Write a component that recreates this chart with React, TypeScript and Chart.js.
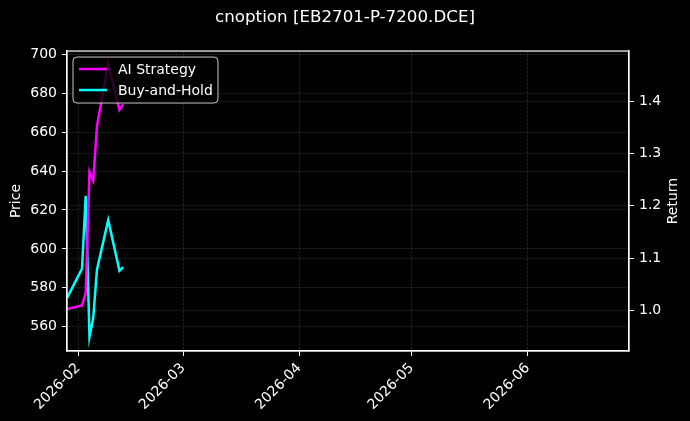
import React, { useEffect, useRef } from 'react';
import { Chart, registerables, ChartConfiguration, Plugin } from 'chart.js';

Chart.register(...registerables);

// trading dates shown on the chart
const dates: string[] = [
  '2026-01-29', '2026-02-02', '2026-02-03', '2026-02-04', '2026-02-05',
  '2026-02-06', '2026-02-09', '2026-02-12', '2026-02-13',
];
const aiStrategy: number[] = [1.003, 1.01, 1.034, 1.265, 1.248, 1.352, 1.471, 1.383, 1.394];
const buyAndHold: number[] = [1.024, 1.08, 1.219, 0.95, 0.986, 1.078, 1.173, 1.076, 1.083];

const monthTicks: string[] = ['2026-02-01', '2026-03-01', '2026-04-01', '2026-05-01', '2026-06-01'];
const monthLabels: string[] = ['2026-02', '2026-03', '2026-04', '2026-05', '2026-06'];
const xRange: string[] = ['2026-01-29', '2026-06-28'];

const priceRange = { min: 547.5, max: 701.7 };
const returnRange = { min: 0.923, max: 1.4954 };

const DAY = 86400000;
const base = Date.UTC(2026, 1, 1);
const toDay = (s: string) => {
  const [y, m, d] = s.split('-').map(Number);
  return (Date.UTC(y, m - 1, d) - base) / DAY;
};

const GRID = 'rgba(255,255,255,0.22)';
const TEXT = '#ffffff';
const FONT = '"DejaVu Sans"';

const framePlugin: Plugin = {
  id: 'frame',
  afterDatasetsDraw(chart) {
    const { ctx, chartArea } = chart;
    const { left, top, right, bottom } = chartArea;
    ctx.save();
    ctx.strokeStyle = '#ffffff';
    ctx.lineWidth = 1.2;
    ctx.setLineDash([]);
    ctx.strokeRect(left, top, right - left, bottom - top);

    // legend box, upper left
    const bx = left + 6;
    const by = top + 6;
    const bw = 145;
    const bh = 46;
    ctx.beginPath();
    ctx.roundRect(bx, by, bw, bh, 4);
    ctx.fillStyle = 'rgba(0,0,0,0.8)';
    ctx.fill();
    ctx.strokeStyle = 'rgba(220,220,220,0.9)';
    ctx.lineWidth = 1;
    ctx.stroke();
    ctx.font = `14px ${FONT}`;
    ctx.textBaseline = 'middle';
    chart.data.datasets.forEach((ds, i) => {
      const y = by + 12 + i * 21;
      ctx.strokeStyle = ds.borderColor as string;
      ctx.lineWidth = 2.5;
      ctx.beginPath();
      ctx.moveTo(bx + 6, y);
      ctx.lineTo(bx + 34, y);
      ctx.stroke();
      ctx.fillStyle = TEXT;
      ctx.fillText(ds.label as string, bx + 45, y + 1);
    });
    ctx.restore();
  },
  afterDraw(chart) {
    // right axis title reads bottom-to-top, as on the left
    const { ctx, chartArea } = chart;
    ctx.save();
    ctx.translate(chart.width - 17, (chartArea.top + chartArea.bottom) / 2);
    ctx.rotate(-Math.PI / 2);
    ctx.font = `14px ${FONT}`;
    ctx.fillStyle = TEXT;
    ctx.textAlign = 'center';
    ctx.textBaseline = 'middle';
    ctx.fillText('Return', 0, 0);
    ctx.restore();
  },
};

export default function App() {
  const chartRef = useRef<HTMLCanvasElement | null>(null);

  useEffect(() => {
    document.body.style.margin = '0';
    document.body.style.background = '#000';
    if (!chartRef.current) return;
    const ctx = chartRef.current.getContext('2d');
    if (!ctx) return;

    Chart.defaults.font.family = FONT;
    Chart.defaults.color = TEXT;

    const tickDays = monthTicks.map(toDay);
    const gridOpts = {
      color: GRID,
      lineWidth: 0.6,
      tickColor: '#ffffff',
      tickLength: 5,
      tickWidth: 1,
    };
    const borderOpts = { display: true, color: '#ffffff', width: 1.2, dash: [2.6, 1.4] };

    const config: ChartConfiguration<'line'> = {
      type: 'line',
      data: {
        datasets: [
          {
            label: 'AI Strategy',
            data: dates.map((d, i) => ({ x: toDay(d), y: aiStrategy[i] })),
            borderColor: '#ff00ff',
            backgroundColor: '#ff00ff',
            borderWidth: 2.5,
            pointRadius: 0,
            tension: 0,
            yAxisID: 'yReturn',
          },
          {
            label: 'Buy-and-Hold',
            data: dates.map((d, i) => ({ x: toDay(d), y: buyAndHold[i] })),
            borderColor: '#00ffff',
            backgroundColor: '#00ffff',
            borderWidth: 2.5,
            pointRadius: 0,
            tension: 0,
            yAxisID: 'yReturn',
          },
        ],
      },
      options: {
        animation: false,
        responsive: true,
        maintainAspectRatio: false,
        layout: { padding: 0 },
        plugins: {
          legend: { display: false },
          tooltip: { enabled: false },
          title: {
            display: true,
            text: 'cnoption [EB2701-P-7200.DCE]',
            color: TEXT,
            font: { size: 16.7, weight: 'normal' },
            padding: { top: 8, bottom: 23 },
          },
        },
        scales: {
          x: {
            type: 'linear',
            min: toDay(xRange[0]),
            max: toDay(xRange[1]),
            afterBuildTicks: (scale) => {
              scale.ticks = tickDays.map((v) => ({ value: v }));
            },
            afterFit: (scale) => {
              scale.height = 70;
            },
            ticks: {
              color: TEXT,
              font: { size: 14 },
              maxRotation: 45,
              minRotation: 45,
              padding: 4,
              autoSkip: false,
              callback: (v) => {
                const i = tickDays.indexOf(Number(v));
                return i >= 0 ? monthLabels[i] : '';
              },
            },
            grid: gridOpts,
            border: borderOpts,
          },
          yPrice: {
            type: 'linear',
            position: 'left',
            min: priceRange.min,
            max: priceRange.max,
            afterFit: (scale) => {
              scale.width = 67;
            },
            ticks: {
              stepSize: 20,
              includeBounds: false,
              color: TEXT,
              font: { size: 14 },
              padding: 5,
            },
            title: {
              display: true,
              text: 'Price',
              color: TEXT,
              font: { size: 14 },
              padding: { top: 8, bottom: 0 },
            },
            grid: gridOpts,
            border: borderOpts,
          },
          yReturn: {
            type: 'linear',
            position: 'right',
            min: returnRange.min,
            max: returnRange.max,
            afterFit: (scale) => {
              scale.width = 61;
            },
            ticks: {
              stepSize: 0.1,
              includeBounds: false,
              color: TEXT,
              font: { size: 14 },
              padding: 5,
              callback: (v) => Number(v).toFixed(1),
            },
            grid: gridOpts,
            border: borderOpts,
          },
        },
      },
      plugins: [framePlugin],
    };

    const chartInstance = new Chart(ctx, config);
    return () => {
      chartInstance.destroy();
    };
  }, []);

  return (
    <div style={{ position: 'fixed', left: 0, top: 0, width: 690, height: 421, background: '#000' }}>
      <canvas ref={chartRef} />
    </div>
  );
}
